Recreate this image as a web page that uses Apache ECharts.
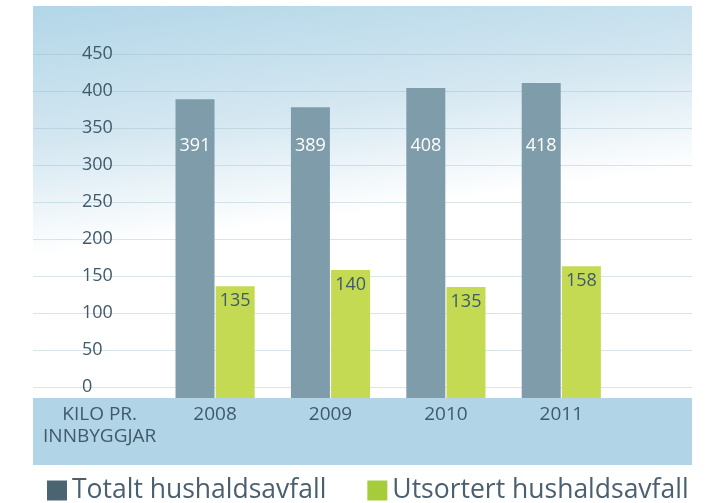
<!DOCTYPE html>
<html>
<head>
<meta charset="utf-8">
<script src="https://cdn.jsdelivr.net/npm/echarts@6/dist/echarts.min.js"></script>
<style>
  html, body { margin: 0; padding: 0; background: #fff; }
  #main { width: 715px; height: 503px; }
</style>
</head>
<body>
<div id="main"></div>
<script>
// data
var categories = ['KILO PR.\nINNBYGGJAR', '2008', '2009', '2010', '2011'];
// bar heights as drawn, measured from the bar baseline (which sits a little under the "0" line)
var totalHeights = [null, 404, 393, 419, 426];
var totalLabels = ['', '391', '389', '408', '418']; // printed values
var sortedHeights = [null, 151, 173, 150, 178];
var sortedLabels = ['', '135', '140', '135', '158'];
var yTicks = [0, 50, 100, 150, 200, 250, 300, 350, 400, 450];
var seriesNames = ['Totalt hushaldsavfall', 'Utsortert hushaldsavfall'];

var textColor = '#3f5a6b';
var font = 'Open Sans';

var myChart = echarts.init(document.getElementById('main'));

var option = {
    animation: false,
    textStyle: { fontFamily: font },
    graphic: [
        {
            type: 'rect', z: -10,
            shape: { x: 33, y: 6, width: 659, height: 392 },
            style: {
                fill: new echarts.graphic.LinearGradient(0, 0, 0.08, 1, [
                    { offset: 0, color: '#b2d6e8' },
                    { offset: 0.35, color: '#d4e7f1' },
                    { offset: 0.63, color: '#ffffff' },
                    { offset: 1, color: '#ffffff' }
                ])
            }
        },
        {
            type: 'rect', z: -10,
            shape: { x: 33, y: 398, width: 659, height: 67 },
            style: { fill: '#b1d4e6' }
        }
    ],
    grid: [
        // gridlines + y labels
        { left: 33, right: 23, top: 6, bottom: 105 },
        // bars
        { left: 42, right: 96, top: 6, bottom: 105 }
    ],
    xAxis: [
        { gridIndex: 0, type: 'value', min: 0, max: 1, show: false },
        {
            gridIndex: 1,
            type: 'category',
            data: categories,
            axisLine: { show: false },
            axisTick: { show: false },
            axisLabel: {
                interval: 0,
                color: textColor,
                fontSize: 19,
                lineHeight: 22,
                margin: 6,
                fontFamily: font
            }
        }
    ],
    yAxis: [
        {
            gridIndex: 0,
            type: 'value',
            min: -15,
            max: 515,
            axisLine: { show: false },
            axisTick: { show: false, customValues: yTicks },
            axisLabel: {
                inside: true,
                margin: 49,
                customValues: yTicks,
                color: textColor,
                fontSize: 18,
                fontFamily: font
            },
            splitLine: { lineStyle: { color: 'rgba(150,180,195,0.35)', width: 1 } }
        },
        { gridIndex: 1, type: 'value', min: 0, max: 530, show: false }
    ],
    legend: {
        left: 42,
        top: 472,
        itemWidth: 20,
        itemHeight: 20,
        itemGap: 41,
        icon: 'rect',
        textStyle: { color: '#4a6070', fontSize: 26.5, fontFamily: font },
        data: [
            { name: seriesNames[0], itemStyle: { color: '#4a6472' } },
            { name: seriesNames[1], itemStyle: { color: '#a7cc3a' } }
        ]
    },
    series: [
        {
            name: seriesNames[0],
            type: 'bar',
            xAxisIndex: 1,
            yAxisIndex: 1,
            barWidth: 39,
            barGap: '3%',
            itemStyle: { color: '#7f9cab' },
            data: totalHeights,
            label: {
                show: true,
                position: 'insideBottom',
                distance: 243,
                color: '#ffffff',
                fontSize: 18,
                fontFamily: font,
                formatter: function (p) { return totalLabels[p.dataIndex]; }
            }
        },
        {
            name: seriesNames[1],
            type: 'bar',
            xAxisIndex: 1,
            yAxisIndex: 1,
            barWidth: 39,
            itemStyle: { color: '#c4da53' },
            data: sortedHeights,
            label: {
                show: true,
                position: 'insideTop',
                distance: 6,
                color: textColor,
                fontSize: 18,
                fontFamily: font,
                formatter: function (p) { return sortedLabels[p.dataIndex]; }
            }
        }
    ]
};

myChart.setOption(option);
</script>
</body>
</html>
